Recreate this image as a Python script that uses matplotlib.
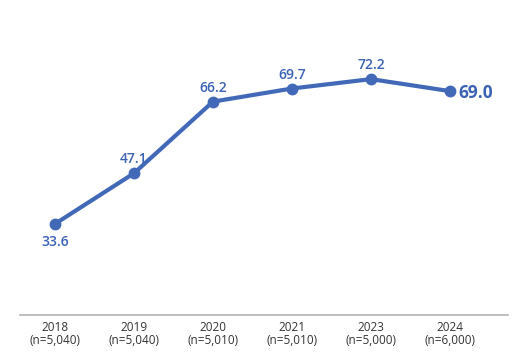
import matplotlib
matplotlib.use("Agg")
import matplotlib.pyplot as plt

# data
years = ["2018", "2019", "2020", "2021", "2023", "2024"]
samples = ["5,040", "5,040", "5,010", "5,010", "5,000", "6,000"]
values = [33.6, 47.1, 66.2, 69.7, 72.2, 69.0]

plt.rcParams["font.family"] = ["Open Sans", "DejaVu Sans"]
blue = "#4169B8"
label_blue = "#3A63B5"

fig = plt.figure(figsize=(5.12, 3.61), dpi=100)
ax = fig.add_axes([20 / 512, 1 - 315 / 361, 488 / 512, 315 / 361])

x = list(range(len(values)))
ax.plot(x, values, color=blue, lw=3, marker="o", ms=7.5, solid_capstyle="round")

for i, v in enumerate(values):
    if i == 0:
        ax.annotate(f"{v:.1f}", (i, v), xytext=(0, -8), textcoords="offset points",
                    ha="center", va="top", fontsize=10, fontweight="semibold", color=label_blue)
    elif i == len(values) - 1:
        ax.annotate(f"{v:.1f}", (i, v), xytext=(6, -1), textcoords="offset points",
                    ha="left", va="center", fontsize=12.5, fontweight="bold", color=label_blue)
    else:
        ax.annotate(f"{v:.1f}", (i, v), xytext=(0, 5), textcoords="offset points",
                    ha="center", va="bottom", fontsize=10, fontweight="semibold", color=label_blue)

ax.set_xlim((20 - 55) / 79, (508 - 55) / 79)
ax.set_ylim(9.3, 93.3)

ax.set_xticks(x)
ax.set_xticklabels([f"{y}\n(n={n})" for y, n in zip(years, samples)],
                   fontsize=8.5, color="#333333", linespacing=1.0)
ax.tick_params(axis="x", length=0, pad=4)
ax.set_yticks([])

for s in ["top", "left", "right"]:
    ax.spines[s].set_visible(False)
ax.spines["bottom"].set_color("#b3b3b3")
ax.spines["bottom"].set_linewidth(1.2)

fig.savefig("out.png", dpi=100)
